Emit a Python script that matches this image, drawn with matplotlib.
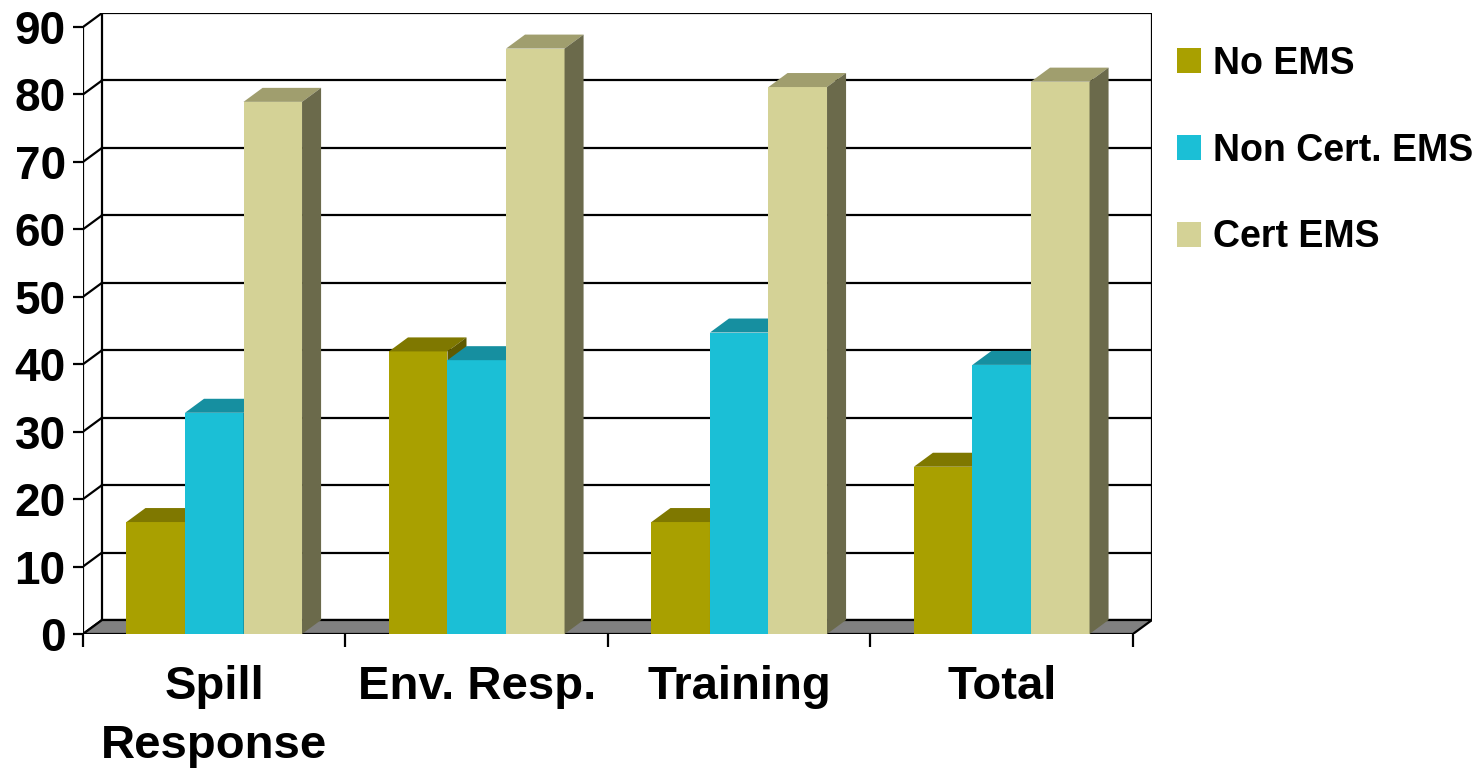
import numpy as np
import matplotlib
matplotlib.use('Agg')
import matplotlib.pyplot as plt
from matplotlib.patches import Polygon

categories = ['Spill\nResponse', 'Env. Resp.', 'Training', 'Total']
series_names = ['No EMS', 'Non Cert. EMS', 'Cert EMS']
no_ems = [16.6, 41.9, 16.6, 24.8]
non_cert_ems = [32.8, 40.6, 44.7, 39.9]
cert_ems = [78.9, 86.8, 81.1, 81.9]
y_ticks = [0, 10, 20, 30, 40, 50, 60, 70, 80, 90]

# front, top, side shades per series
shades = [
    ('#A9A000', '#7F7800', '#5F5A00'),
    ('#1BBFD6', '#168FA0', '#117080'),
    ('#D4D296', '#A09E6E', '#6B6A4B'),
]

plt.rcParams['font.family'] = ['Liberation Sans', 'DejaVu Sans']
plt.rcParams['font.weight'] = 'bold'

fig = plt.figure(figsize=(14.84, 7.70), dpi=100)
W, H = 1484, 770
x0_px, x1_px, ytop_px, y0_px = 83, 1152, 13, 634
ax = fig.add_axes([x0_px / W, (H - y0_px) / H, (x1_px - x0_px) / W, (y0_px - ytop_px) / H])

n = len(categories)
ymax = 90
dx = 19 / 262.0   # depth offset in category units
dy = 14 / 6.745   # depth offset in value units
ax.set_xlim(0, n + dx)
ax.set_ylim(0, ymax + dy)
for s in ax.spines.values():
    s.set_visible(False)

lc = 'black'
lw = 1.6
# back wall gridlines + left wall diagonals
for v in y_ticks:
    ax.plot([dx, n + dx], [v + dy, v + dy], color=lc, lw=lw, zorder=0.5)
    ax.plot([0, dx], [v, v + dy], color=lc, lw=lw, zorder=0.5)
ax.plot([dx, dx], [dy, ymax + dy], color=lc, lw=lw, zorder=0.5)
ax.plot([n + dx, n + dx], [dy, ymax + dy], color=lc, lw=lw, zorder=0.5)
ax.plot([0, 0], [0, ymax], color=lc, lw=lw, zorder=0.6)

# floor
floor = Polygon([(0, 0), (n, 0), (n + dx, dy), (dx, dy)], closed=True,
                facecolor='#808080', edgecolor=lc, lw=lw, zorder=1)
ax.add_patch(floor)

width = 0.223
xc = np.arange(n) + 0.5
data = [no_ems, non_cert_ems, cert_ems]
handles = []
for k, vals in enumerate(data):
    front, top, side = shades[k]
    bars = ax.bar(xc + (k - 1) * width, vals, width, color=front, zorder=3 + k,
                  label=series_names[k], linewidth=0)
    handles.append(bars)
    for b in bars:
        xa = b.get_x()
        xb = xa + b.get_width()
        h = b.get_height()
        ax.add_patch(Polygon([(xa, h), (xa + dx, h + dy), (xb + dx, h + dy), (xb, h)],
                             closed=True, facecolor=top, lw=0, zorder=3 + k))
        ax.add_patch(Polygon([(xb, 0), (xb, h), (xb + dx, h + dy), (xb + dx, dy)],
                             closed=True, facecolor=side, lw=0, zorder=3 + k))

ax.set_yticks(y_ticks)
ax.set_yticklabels([str(v) for v in y_ticks], fontsize=33, fontweight='bold')
ax.tick_params(axis='y', length=7.5, width=lw, pad=5)

ax.set_xticks(np.arange(n + 1))
ax.set_xticklabels([])
ax.tick_params(axis='x', which='major', length=9, width=lw)
ax.set_xticks(xc, minor=True)
ax.set_xticklabels(categories, minor=True, fontsize=34, fontweight='bold', linespacing=1.45)
ax.tick_params(axis='x', which='minor', length=0, pad=22)

fig.legend(handles=handles, labels=series_names, loc='upper left',
           bbox_to_anchor=(1177 / W, 1 - 46 / H), frameon=False,
           prop={'size': 27, 'weight': 'bold'}, handlelength=0.65, handleheight=0.65,
           handletextpad=0.3, labelspacing=1.35, borderaxespad=0, borderpad=0)

fig.savefig('out.png', dpi=100)
